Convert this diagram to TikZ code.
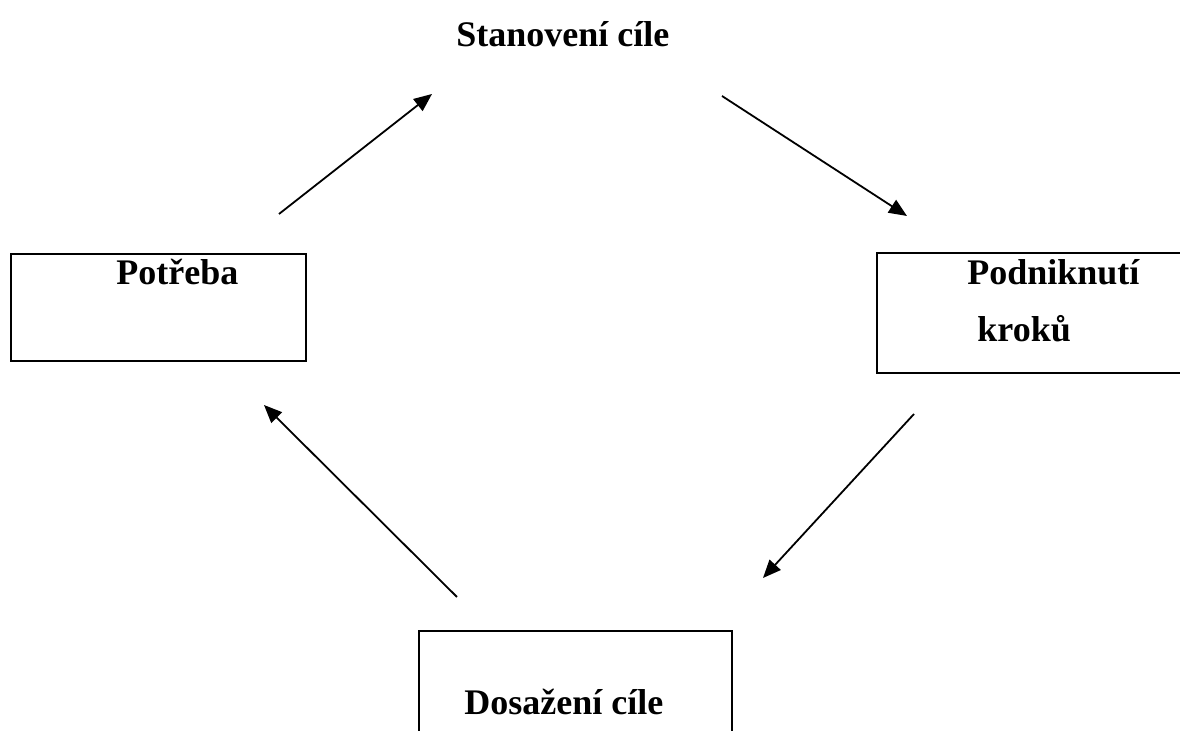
\documentclass[tikz,border=0pt]{standalone}
\usepackage{fontspec}
\setmainfont{Liberation Serif}
\usetikzlibrary{arrows.meta}
\begin{document}
\begin{tikzpicture}[x=0.5pt,y=-0.5pt,
  lbl/.style={inner sep=0pt,anchor=base west,font=\fontsize{18}{21.6}\selectfont\bfseries},
  boxline/.style={draw=black,line width=1pt},
  arr/.style={draw=black,line width=0.9pt,-{Triangle[length=9pt,width=7.5pt]}}]
\path[use as bounding box] (0,0) rectangle (1180,731);
\clip (0,0) rectangle (1180,731);
\fill[white] (0,0) rectangle (1180,731);
% boxes
\draw[boxline] (11,254) rectangle (306,361);
\draw[boxline] (877,253) rectangle (1195,373);
\draw[boxline] (419,631) rectangle (732,745);
% texts
\node[lbl] (stanoveni) at (456,47) {Stanovení cíle};
\node[lbl] (potreba) at (116,285) {Potřeba};
\node[lbl] (podniknuti) at (967,285) {Podniknutí};
\node[lbl] (kroku) at (977,342) {kroků};
\node[lbl] (dosazeni) at (464,715) {Dosažení cíle};
% arrow endpoints
\coordinate (a1s) at (279,214); \coordinate (a1e) at (432,94);
\coordinate (a2s) at (722,96);  \coordinate (a2e) at (907,216);
\coordinate (a3s) at (914,414); \coordinate (a3e) at (763,578);
\coordinate (a4s) at (457,597); \coordinate (a4e) at (264,405);
\draw[arr] (a1s) -- (a1e);
\draw[arr] (a2s) -- (a2e);
\draw[arr] (a3s) -- (a3e);
\draw[arr] (a4s) -- (a4e);
\end{tikzpicture}
\end{document}
